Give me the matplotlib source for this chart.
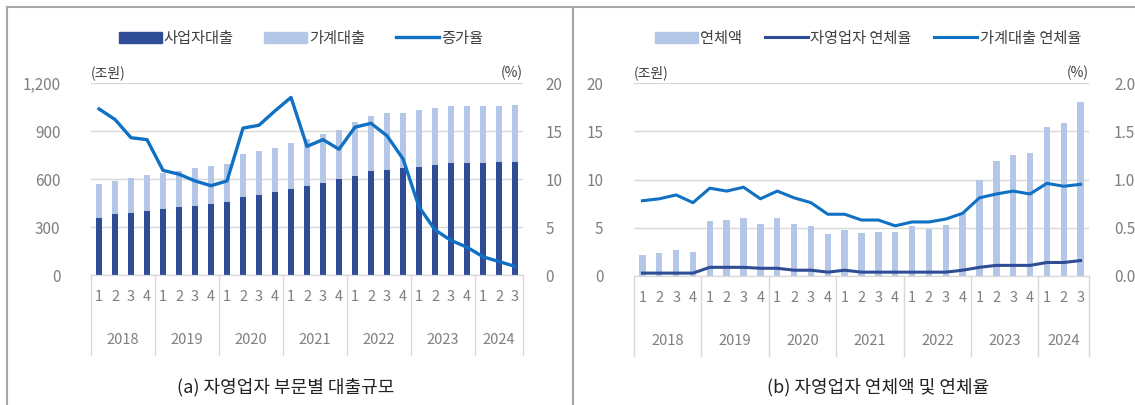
import numpy as np
import matplotlib
matplotlib.use("Agg")
import matplotlib.pyplot as plt
from matplotlib.patches import Patch
from matplotlib.lines import Line2D
import matplotlib.transforms as mtrans

plt.rcParams['font.family'] = ['Noto Sans CJK KR', 'DejaVu Sans']

# 분기 / 연도
quarters = ['1', '2', '3', '4'] * 6 + ['1', '2', '3']
years = ['2018', '2019', '2020', '2021', '2022', '2023', '2024']
year_sizes = [4, 4, 4, 4, 4, 4, 3]

# (a) 대출규모 (조원), 증가율 (%)
biz_loan = [358, 379, 389, 399, 410, 422, 431, 441, 458, 489, 499, 518, 539, 557,
            576, 599, 618, 647, 659, 668, 678, 688, 699, 699, 697, 707, 707]
house_loan = [208, 210, 218, 229, 230, 228, 235, 243, 237, 266, 277, 277, 287, 296,
              308, 306, 337, 347, 354, 345, 356, 356, 356, 356, 358, 348, 358]
growth = [17.3, 16.2, 14.3, 14.1, 10.9, 10.5, 9.8, 9.3, 9.8, 15.3, 15.6, 17.1, 18.5, 13.4,
          14.1, 13.1, 15.4, 15.8, 14.5, 12.1, 7.1, 4.7, 3.6, 2.9, 1.9, 1.4, 0.9]

# (b) 연체액 (조원), 연체율 (%)
arrears = [2.2, 2.4, 2.7, 2.5, 5.7, 5.8, 6.0, 5.4, 6.0, 5.4, 5.2, 4.4, 4.8, 4.5,
           4.6, 4.6, 5.2, 4.9, 5.3, 6.5, 9.9, 11.9, 12.5, 12.7, 15.4, 15.9, 18.0]
se_rate = [0.03, 0.03, 0.03, 0.03, 0.09, 0.09, 0.09, 0.08, 0.08, 0.06, 0.06, 0.04, 0.06, 0.04,
           0.04, 0.04, 0.04, 0.04, 0.04, 0.06, 0.09, 0.11, 0.11, 0.11, 0.14, 0.14, 0.16]
hh_rate = [0.78, 0.80, 0.84, 0.76, 0.91, 0.88, 0.92, 0.80, 0.88, 0.81, 0.76, 0.64, 0.64, 0.58,
           0.58, 0.52, 0.56, 0.56, 0.59, 0.65, 0.81, 0.85, 0.88, 0.85, 0.96, 0.93, 0.95]

dark = '#2E4D96'
light = '#B4C7E7'
blue = '#0F70C4'
grey_txt = '#7F7F7F'
grid_c = '#D9D9D9'

W, H = 1135, 405
fig = plt.figure(figsize=(W / 100, H / 100), dpi=100)


def px_axes(x0, x1, y_top, y_bot):
    return fig.add_axes([x0 / W, 1 - y_bot / H, (x1 - x0) / W, (y_bot - y_top) / H])


def category_axis(ax):
    n = len(quarters)
    ax.set_xlim(-0.5, n - 0.5)
    ax.set_xticks([])
    tr = mtrans.blended_transform_factory(ax.transData, ax.transAxes)
    h = ax.bbox.height
    for i, q in enumerate(quarters):
        ax.text(i, -22 / h, q, transform=tr, ha='center', va='center',
                fontsize=10.5, color=grey_txt)
    edge = -0.5
    ax.plot([edge, edge], [0, -80 / h], transform=tr, color=grid_c, lw=1, clip_on=False)
    for y, s in zip(years, year_sizes):
        ax.text(edge + s / 2, -65 / h, y, transform=tr, ha='center', va='center',
                fontsize=10.5, color=grey_txt)
        edge += s
        ax.plot([edge, edge], [0, -80 / h], transform=tr, color=grid_c, lw=1, clip_on=False)


def style(ax, ax2):
    for a in (ax, ax2):
        for s in ['top', 'left', 'right']:
            a.spines[s].set_visible(False)
        a.spines['bottom'].set_color(grid_c)
        a.tick_params(length=0, labelsize=11, labelcolor=grey_txt)
    ax.tick_params(axis='y', pad=22)
    ax2.tick_params(axis='y', pad=16)
    ax.yaxis.grid(True, color=grid_c, lw=1)
    ax.set_axisbelow(True)


x = np.arange(len(quarters))

# ---- (a) ----
ax = px_axes(91, 523, 83, 275)
ax.bar(x, biz_loan, width=0.4, color=dark, zorder=2)
ax.bar(x, house_loan, width=0.4, bottom=biz_loan, color=light, zorder=2)
ax.set_ylim(0, 1200)
ax.set_yticks([0, 300, 600, 900, 1200])
ax.set_yticklabels(['0', '300', '600', '900', '1,200'])
ax2 = ax.twinx()
ax2.plot(x, growth, color=blue, lw=2.4)
ax2.set_ylim(0, 20)
ax2.set_yticks([0, 5, 10, 15, 20])
style(ax, ax2)
category_axis(ax)
ax.text(0, 1.015, '(조원)', transform=ax.transAxes, fontsize=10, color='#404040', va='bottom')
ax.text(1, 1.015, '(%)', transform=ax.transAxes, fontsize=10, color='#404040', va='bottom', ha='right')

handles = [Patch(color=dark), Patch(color=light), Line2D([], [], color=blue, lw=2.4)]
fig.legend(handles, ['사업자대출', '가계대출', '증가율'], loc='center', bbox_to_anchor=(301 / W, 1 - 38 / H),
           ncol=3, frameon=False, fontsize=11, handlelength=2.8, handleheight=0.7,
           handletextpad=0.15, columnspacing=2.0, labelcolor='#404040')
fig.text(286 / W, 1 - 387 / H, '(a) 자영업자 부문별 대출규모', ha='center', va='center', fontsize=13, color='#222222')

# ---- (b) ----
bx = px_axes(634, 1089, 83, 276)
bx.bar(x, arrears, width=0.38, color=light, zorder=2)
bx.set_ylim(0, 20)
bx.set_yticks([0, 5, 10, 15, 20])
bx2 = bx.twinx()
bx2.plot(x, se_rate, color=dark, lw=2.2)
bx2.plot(x, hh_rate, color=blue, lw=2.2)
bx2.set_ylim(0, 2.0)
bx2.set_yticks([0, 0.5, 1.0, 1.5, 2.0])
bx2.set_yticklabels(['0.0', '0.5', '1.0', '1.5', '2.0'])
style(bx, bx2)
bx2.tick_params(axis='y', pad=18)
category_axis(bx)
bx.text(0, 1.015, '(조원)', transform=bx.transAxes, fontsize=10, color='#404040', va='bottom')
bx.text(1, 1.015, '(%)', transform=bx.transAxes, fontsize=10, color='#404040', va='bottom', ha='right')

handles = [Patch(color=light), Line2D([], [], color=dark, lw=2.2), Line2D([], [], color=blue, lw=2.2)]
fig.legend(handles, ['연체액', '자영업자 연체율', '가계대출 연체율'], loc='center',
           bbox_to_anchor=(868 / W, 1 - 38 / H), ncol=3, frameon=False, fontsize=11,
           handlelength=2.8, handleheight=0.7, handletextpad=0.15, columnspacing=1.5,
           labelcolor='#404040')
fig.text(878 / W, 1 - 387 / H, '(b) 자영업자 연체액 및 연체율', ha='center', va='center', fontsize=13, color='#222222')

# panel borders
border = '#A6A6A6'
fig.add_artist(Line2D([7 / W, 1], [1 - 7 / H, 1 - 7 / H], color=border, lw=1.5))
fig.add_artist(Line2D([7 / W, 7 / W], [0, 1 - 7 / H], color=border, lw=1.5))
fig.add_artist(Line2D([573 / W, 573 / W], [0, 1 - 7 / H], color=border, lw=1.5))

fig.savefig('out.png', dpi=100)
